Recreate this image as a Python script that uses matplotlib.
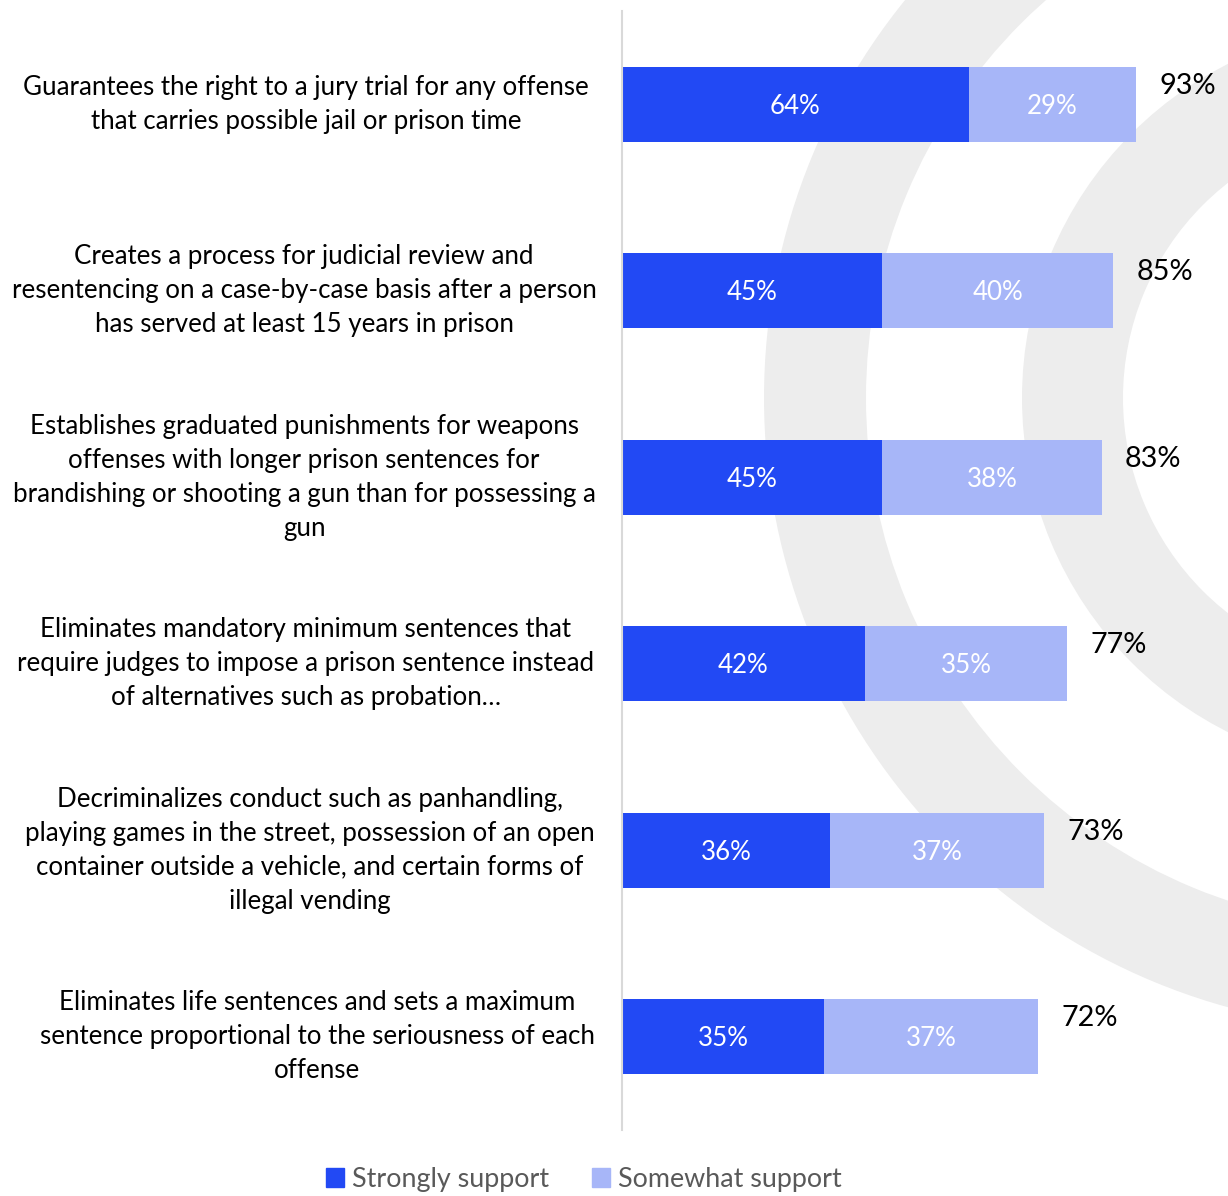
import matplotlib
matplotlib.use("Agg")
import matplotlib.pyplot as plt
from matplotlib.patches import Wedge, Patch
from matplotlib.transforms import blended_transform_factory

plt.rcParams['font.family'] = ['Lato', 'DejaVu Sans']

# Survey items (top to bottom)
statements = [
    "Guarantees the right to a jury trial for any offense\nthat carries possible jail or prison time",
    "Creates a process for judicial review and\nresentencing on a case-by-case basis after a person\nhas served at least 15 years in prison",
    "Establishes graduated punishments for weapons\noffenses with longer prison sentences for\nbrandishing or shooting a gun than for possessing a\ngun",
    "Eliminates mandatory minimum sentences that\nrequire judges to impose a prison sentence instead\nof alternatives such as probation\u2026",
    "Decriminalizes conduct such as panhandling,\nplaying games in the street, possession of an open\ncontainer outside a vehicle, and certain forms of\nillegal vending",
    "Eliminates life sentences and sets a maximum\nsentence proportional to the seriousness of each\noffense",
]

# bar lengths as drawn (first bar is drawn shorter than its printed label)
strongly = [60, 45, 45, 42, 36, 35]
somewhat = [29, 40, 38, 35, 37, 37]

# printed labels
strongly_labels = ['64%', '45%', '45%', '42%', '36%', '35%']
somewhat_labels = ['29%', '40%', '38%', '35%', '37%', '37%']
total_labels = ['93%', '85%', '83%', '77%', '73%', '72%']

legend_labels = ['Strongly support', 'Somewhat support']

dark_blue = '#2249F4'
light_blue = '#A7B6F8'

W, H = 1228, 1196
fig = plt.figure(figsize=(W / 100, H / 100), dpi=100)

# background decoration: two grey rings, in pixel coordinates
bg = fig.add_axes([0, 0, 1, 1])
bg.set_xlim(0, W)
bg.set_ylim(H, 0)
bg.axis('off')
bg.add_patch(Wedge((1396, 398), 632, 0, 360, width=102, color='#EDEDED', lw=0))
bg.add_patch(Wedge((1396, 398), 374, 0, 360, width=101, color='#EDEDED', lw=0))

ax = fig.add_axes([622 / W, 1 - 1130 / H, 606 / W, 1119 / H])
ax.patch.set_alpha(0)

y = list(range(len(statements)))
ax.barh(y, strongly, height=0.40, color=dark_blue, label=legend_labels[0])
ax.barh(y, somewhat, left=strongly, height=0.40, color=light_blue, label=legend_labels[1])

ax.set_xlim(0, 606 / 5.78)
ax.set_ylim(len(statements) - 0.5, -0.5)

for i in y:
    ax.text(strongly[i] / 2, i + 0.01, strongly_labels[i], ha='center', va='center',
            color='white', fontsize=18.6)
    ax.text(strongly[i] + somewhat[i] / 2, i + 0.01, somewhat_labels[i], ha='center',
            va='center', color='white', fontsize=18.6)
    ax.text(strongly[i] + somewhat[i] + 4, i - 0.1, total_labels[i], ha='left',
            va='center', color='black', fontsize=20.8)

# category labels centred in the left panel
label_x = [306, 304, 304, 306, 310, 317]
trans = blended_transform_factory(fig.transFigure, ax.transData)
for i, s in enumerate(statements):
    ax.text(label_x[i] / W, i, s, transform=trans, ha='center', va='center',
            fontsize=18.6, linespacing=1.45, color='black')

for side in ['top', 'right', 'bottom']:
    ax.spines[side].set_visible(False)
ax.spines['left'].set_color('#D9D9D9')
ax.spines['left'].set_linewidth(1.5)
ax.set_xticks([])
ax.set_yticks([])

handles = [Patch(color=dark_blue), Patch(color=light_blue)]
leg = fig.legend(handles, legend_labels, loc='center', bbox_to_anchor=(584 / W, 1 - 1179 / H),
                 ncol=2, frameon=False, fontsize=19.4, handlelength=0.65, handleheight=0.7,
                 handletextpad=0.3, columnspacing=1.6, borderpad=0.2)
for t in leg.get_texts():
    t.set_color('#595959')

fig.savefig('out.png', dpi=100)
